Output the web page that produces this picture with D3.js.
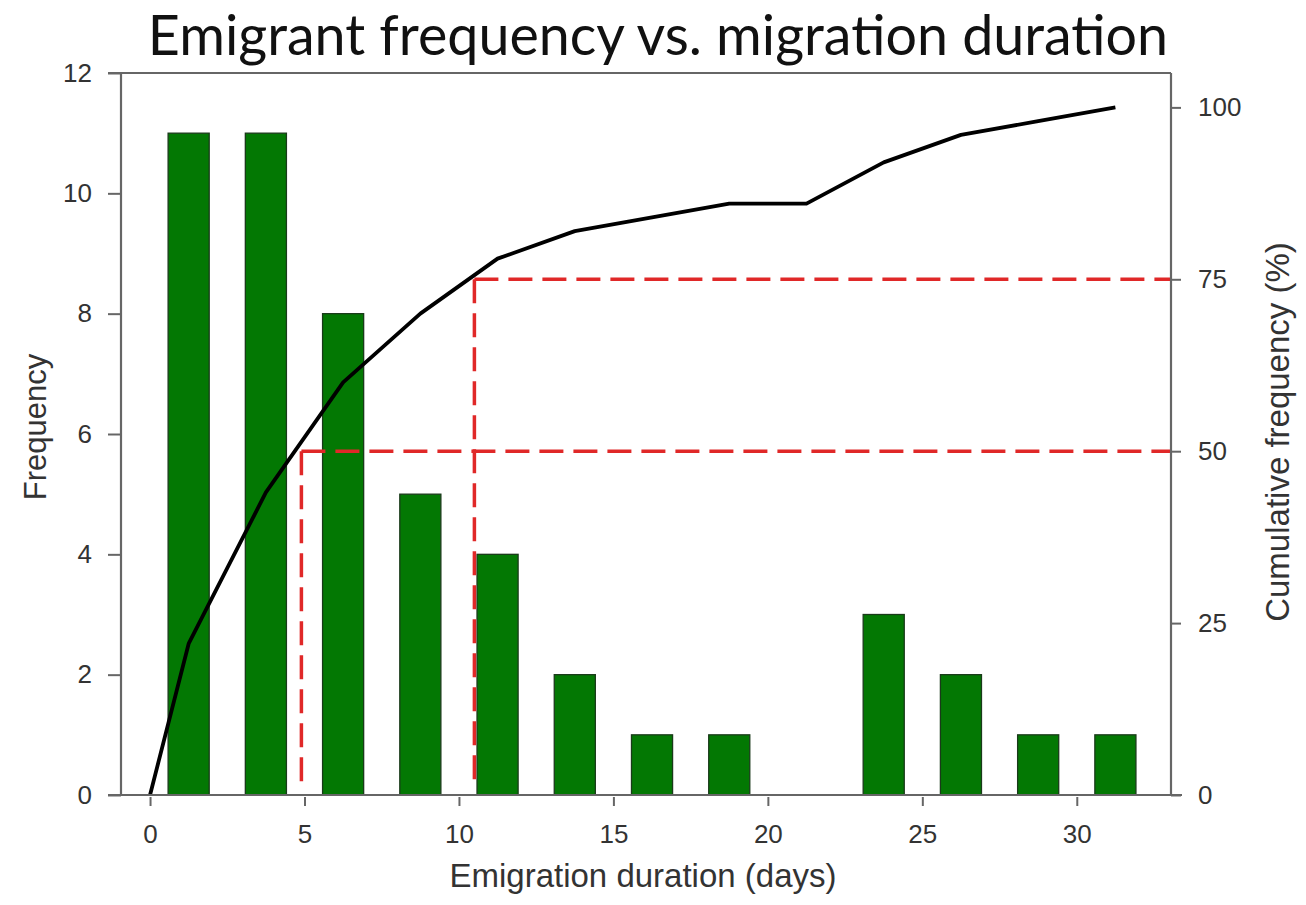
<!DOCTYPE html>
<html><head><meta charset="utf-8">
<script src="https://cdn.jsdelivr.net/npm/d3@7"></script>
<style>body{margin:0;background:#fff}svg{display:block}</style>
</head><body>
<svg id="c" width="1306" height="905"></svg>
<script>
// ---- data ----
const binCenters = [1.25, 3.75, 6.25, 8.75, 11.25, 13.75, 16.25, 18.75, 21.25, 23.75, 26.25, 28.75, 31.25];
const frequency  = [11, 11, 8, 5, 4, 2, 1, 1, 0, 3, 2, 1, 1];
const cumX       = [0, 1.25, 3.75, 6.25, 8.75, 11.25, 13.75, 16.25, 18.75, 21.25, 23.75, 26.25, 28.75, 31.25];
const cumPct     = [0, 22, 44, 60, 70, 78, 82, 84, 86, 86, 92, 96, 98, 100];
const quantiles  = [{day: 4.9, pct: 50}, {day: 10.5, pct: 75}];
const xTicks = [0, 5, 10, 15, 20, 25, 30];
const yTicks = [0, 2, 4, 6, 8, 10, 12];
const y2Ticks = [0, 25, 50, 75, 100];
const binWidth = 1.33;

// ---- layout ----
const L = 121, R = 1171, T = 73, B = 795;
const svg = d3.select("#c");
const x = d3.scaleLinear().domain([-0.94, 33.05]).range([L, R]);
const y = d3.scaleLinear().domain([0, 12]).range([B, T]);
const y2 = d3.scaleLinear().domain([0, 105]).range([B, T]);
const axisCol = "#666";
const txtCol = "#333";
const sans = "'Liberation Sans', Arial, sans-serif";

// bars
svg.append("g").selectAll("rect").data(frequency.map((v, i) => ({c: binCenters[i], v})).filter(d => d.v > 0))
  .join("rect")
  .attr("x", d => x(d.c - binWidth / 2))
  .attr("width", d => x(d.c + binWidth / 2) - x(d.c - binWidth / 2))
  .attr("y", d => y(d.v))
  .attr("height", d => y(0) - y(d.v))
  .attr("fill", "#037803")
  .attr("stroke", "#1a3a1a")
  .attr("stroke-width", 1.3);

// red dashed quantile lines
const q = svg.append("g").attr("stroke", "#e02828").attr("stroke-width", 3.5).attr("stroke-dasharray", "24,10").attr("fill", "none");
quantiles.forEach(d => {
  q.append("line").attr("x1", x(d.day)).attr("x2", x(d.day)).attr("y1", y2(d.pct)).attr("y2", y2(0) - 12);
  q.append("line").attr("x1", x(d.day)).attr("x2", R).attr("y1", y2(d.pct)).attr("y2", y2(d.pct));
});

// cumulative line
svg.append("path")
  .datum(cumX.map((d, i) => [d, cumPct[i]]))
  .attr("d", d3.line().x(d => x(d[0])).y(d => y2(d[1])))
  .attr("fill", "none").attr("stroke", "#000").attr("stroke-width", 3.8).attr("stroke-linejoin", "round");

// frame lines
const fr = svg.append("g").attr("stroke", axisCol).attr("stroke-width", 2.2).attr("fill", "none");
fr.append("line").attr("x1", L - 13).attr("x2", R).attr("y1", T).attr("y2", T);
fr.append("line").attr("x1", L).attr("x2", L).attr("y1", T).attr("y2", B);
fr.append("line").attr("x1", R).attr("x2", R).attr("y1", T).attr("y2", B);
fr.append("line").attr("x1", L - 13).attr("x2", R + 11).attr("y1", B).attr("y2", B);

// axes
const ga = svg.append("g").attr("transform", `translate(${L},0)`)
  .call(d3.axisLeft(y).tickValues(yTicks).tickSize(13).tickPadding(16).tickFormat(d3.format("d")));
const gb = svg.append("g").attr("transform", `translate(${R},0)`)
  .call(d3.axisRight(y2).tickValues(y2Ticks).tickSize(10).tickPadding(17).tickFormat(d3.format("d")));
const gc = svg.append("g").attr("transform", `translate(0,${B + 2})`)
  .call(d3.axisBottom(x).tickValues(xTicks).tickSize(9).tickPadding(19).tickFormat(d3.format("d")));
[ga, gb, gc].forEach(g => {
  g.select(".domain").remove();
  g.selectAll(".tick line").attr("stroke", axisCol).attr("stroke-width", 2);
  g.selectAll(".tick text").attr("fill", txtCol).style("font-family", sans).style("font-size", "26px");
});

// titles
const title = svg.append("text").attr("x", 658).attr("y", 55).attr("text-anchor", "middle")
  .style("font-family", "Lato, 'Open Sans', sans-serif").style("font-size", "50px").attr("fill", "#111")
  .text("Emigrant frequency vs. migration duration");
const tw = title.node().getComputedTextLength();
title.style("font-size", (50 * 1020 / tw).toFixed(1) + "px");

svg.append("text").attr("x", 643).attr("y", 887).attr("text-anchor", "middle")
  .style("font-family", sans).style("font-size", "33px").attr("fill", txtCol)
  .text("Emigration duration (days)");
svg.append("text").attr("transform", "translate(46,427) rotate(-90)").attr("text-anchor", "middle")
  .style("font-family", sans).style("font-size", "31px").attr("fill", txtCol)
  .text("Frequency");
svg.append("text").attr("transform", "translate(1289,432) rotate(-90)").attr("text-anchor", "middle")
  .style("font-family", sans).style("font-size", "33px").attr("fill", txtCol)
  .text("Cumulative frequency (%)");
</script>
</body></html>
